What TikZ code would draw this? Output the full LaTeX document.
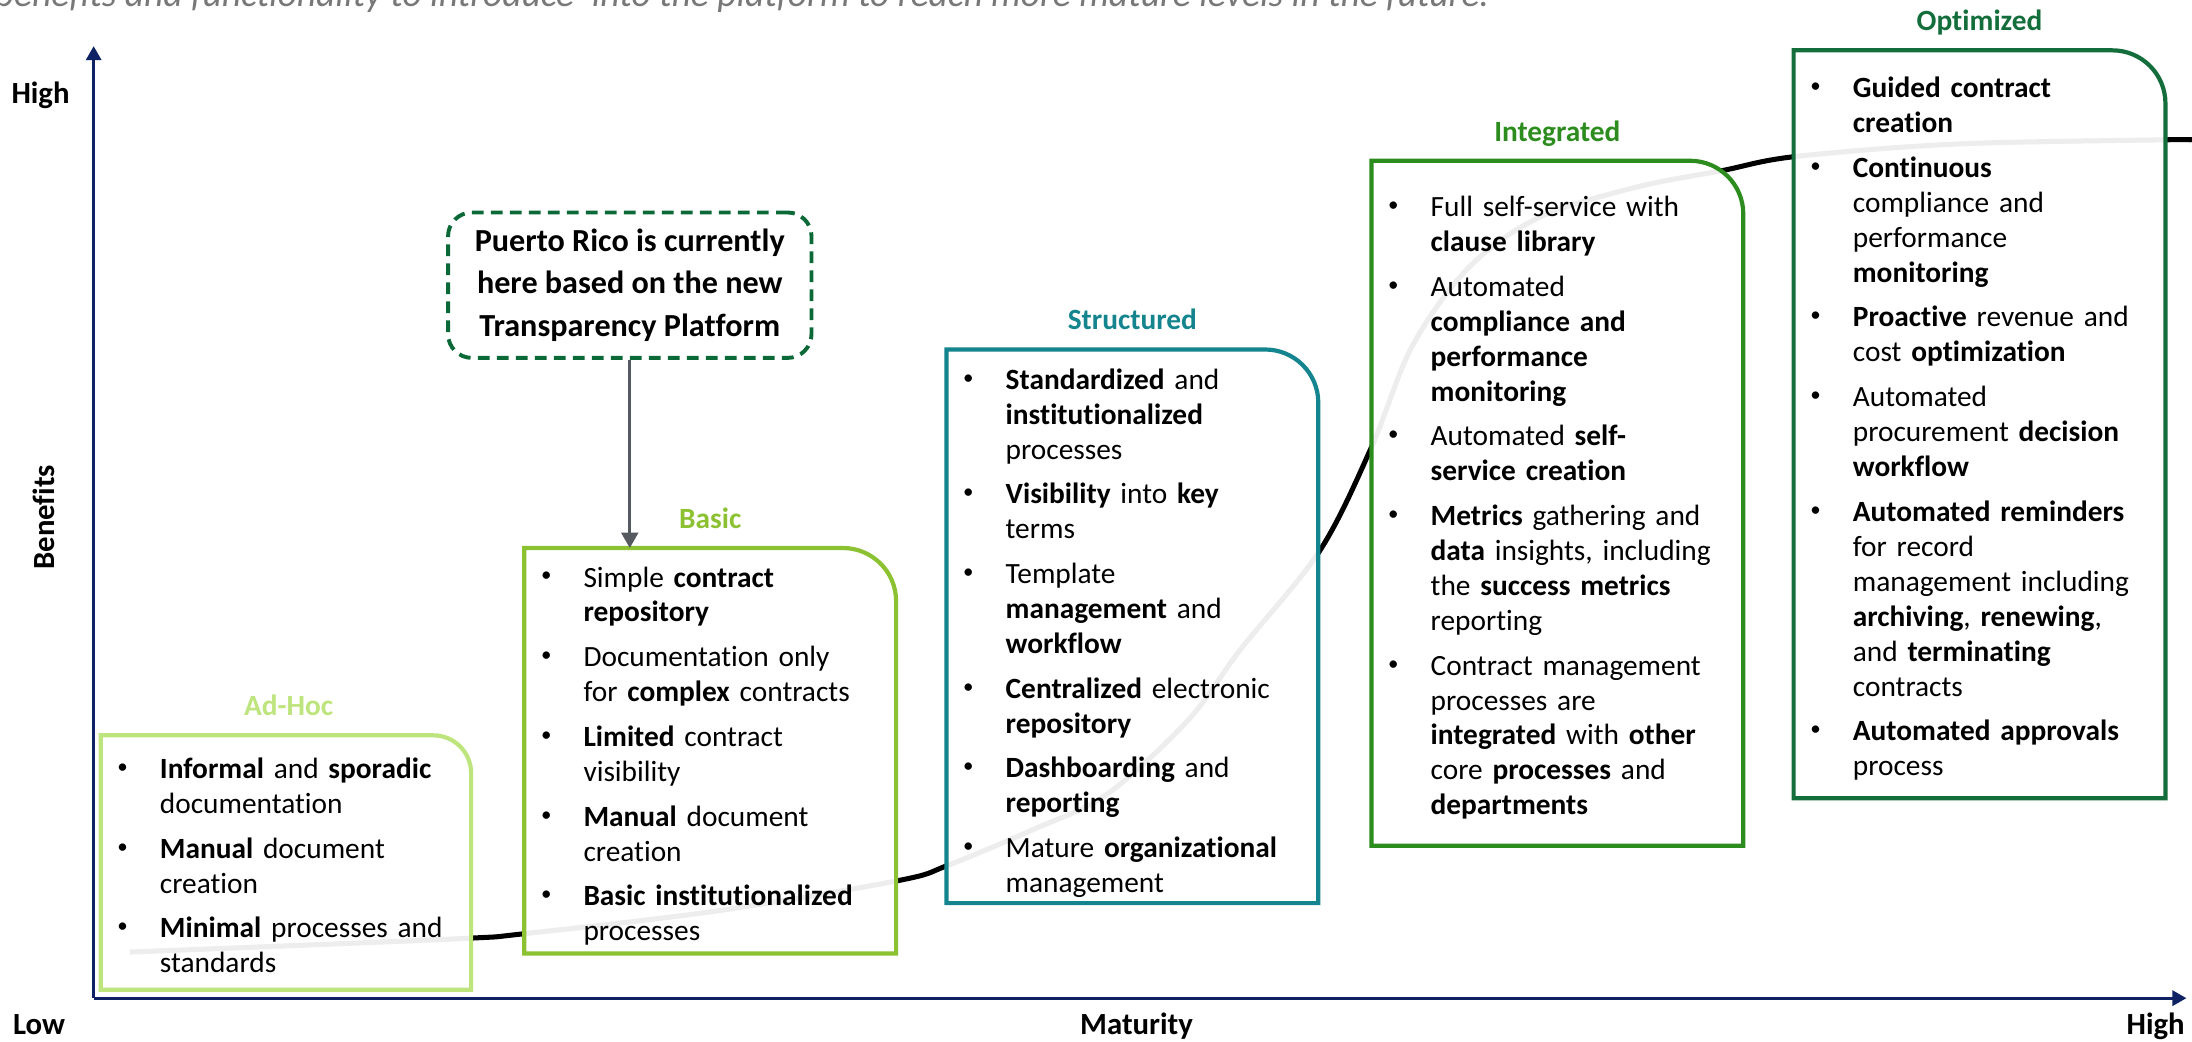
\documentclass[tikz,border=0pt]{standalone}
\usepackage{fontspec}
\setmainfont{Carlito}[Ligatures={TeX,NoCommon}]
\usetikzlibrary{arrows.meta,calc}
\definecolor{cAdhoc}{RGB}{190,228,125}
\definecolor{cBasic}{RGB}{140,193,50}
\definecolor{cStruct}{RGB}{20,133,142}
\definecolor{cInteg}{RGB}{45,140,30}
\definecolor{cOptim}{RGB}{20,110,60}
\definecolor{cPR}{RGB}{10,105,55}
\definecolor{cAxis}{RGB}{15,35,100}
\definecolor{cArrow}{RGB}{85,90,97}
\definecolor{cNote}{RGB}{120,120,120}
\newcommand\bdot{\hspace*{-1.2pt}\raisebox{1.8pt}{\fontsize{7.5}{8}\selectfont\textbullet}}
\newcommand\bitem[1]{\par\noindent\hangindent=14pt\hangafter=1\makebox[14pt][l]{\strut\bdot}#1\par}
\newcommand\bgap{\vspace{3.5pt}}
\newcommand\stagebox[3]{%
  \draw[stageline, draw=#2] (#1.south west) -- (#1.north west)
    -- ($(#1.north east)+(-#3,0)$)
    .. controls ($(#1.north east)+(-0.448*#3,0)$) and ($(#1.north east)+(0,0.448*#3)$)
    .. ($(#1.north east)+(0,#3)$) -- (#1.south east) -- cycle;}
\begin{document}
\begin{tikzpicture}[x=0.5pt,y=-0.5pt,
  frame/.style={draw=none, inner sep=0pt, outer sep=0pt, rectangle},
  stageline/.style={line width=1.5pt, fill=white, fill opacity=0.93},
  txt/.style={anchor=north west, inner sep=0pt, text width=130pt, align=left, font=\fontsize{10.5}{12.5}\selectfont},
  title/.style={anchor=base, inner sep=0pt, font=\bfseries\fontsize{10.5}{12}\selectfont},
  axislbl/.style={inner sep=0pt, font=\bfseries\fontsize{11}{13}\selectfont},
  axis/.style={draw=cAxis, line width=1pt, -{Triangle[length=5pt,width=5.4pt]}},
  curve/.style={draw=black, line width=1.8pt},
  prbox/.style={draw=cPR, line width=1.4pt, dash pattern=on 4.2pt off 2.6pt, rounded corners=8.5pt,
     align=center, inner sep=0pt, minimum width=130pt, minimum height=52pt,
     font=\bfseries\fontsize{11.5}{15.25}\selectfont},
  prarrow/.style={draw=cArrow, line width=1pt, -{Triangle[length=5.5pt,width=6pt]}},
  note/.style={inner sep=0pt, text=cNote, font=\itshape\fontsize{13.4}{15}\selectfont}
]
\useasboundingbox (0,0) rectangle (1568,745);

% top note (partly cut)
\node[note, anchor=base west] (note) at (-4,5) {benefits and functionality to introduce’ into the platform to reach more mature levels in the future.};

% growth curve
\draw[curve] plot[smooth, tension=0.55] coordinates {(93,681) (220,676) (338,671) (374,668) (510,652) (642,630) (678,619) (740,593) (792,568) (850,515) (887,465) (944,394) (981,320) (1010,248) (1050,192) (1100,156) (1170,134) (1232,122) (1284,112) (1400,103) (1549,100) (1566,100)};

% stage frames
\node[frame, minimum width=132.5pt, minimum height=91pt] (adhoc) at (204.5,617) {};
\node[frame, minimum width=133pt, minimum height=145pt] (basic) at (508,537) {};
\node[frame, minimum width=133pt, minimum height=198pt] (struct) at (810,448) {};
\node[frame, minimum width=133pt, minimum height=245pt] (integ) at (1114,360) {};
\node[frame, minimum width=133pt, minimum height=267.5pt] (optim) at (1416,303.5) {};
\stagebox{adhoc}{cAdhoc}{27}
\stagebox{basic}{cBasic}{38}
\stagebox{struct}{cStruct}{38}
\stagebox{integ}{cInteg}{38}
\stagebox{optim}{cOptim}{38}

% titles
\node[title, text=cAdhoc] (tadhoc) at ($(adhoc.north)+(2,-14)$) {Ad-Hoc};
\node[title, text=cBasic] (tbasic) at ($(basic.north)+(0,-14)$) {Basic};
\node[title, text=cStruct] (tstruct) at ($(struct.north)+(0,-14)$) {Structured};
\node[title, text=cInteg] (tinteg) at ($(integ.north)+(0,-14)$) {Integrated};
\node[title, text=cOptim] (toptim) at ($(optim.north)+(0,-14)$) {Optimized};

% texts
\node[txt] (xadhoc) at (86,531.5) {%
\bitem{\textbf{Informal} and \textbf{sporadic}\newline documentation}\bgap
\bitem{\textbf{Manual} document\newline creation}\bgap
\bitem{\textbf{Minimal} processes and\newline standards}};

\node[txt] (xbasic) at (389,394.5) {%
\bitem{Simple \textbf{contract}\newline \textbf{repository}}\bgap
\bitem{Documentation only\newline for \textbf{complex} contracts}\bgap
\bitem{\textbf{Limited} contract\newline visibility}\bgap
\bitem{\textbf{Manual} document\newline creation}\bgap
\bitem{\textbf{Basic institutionalized}\newline processes}};

\node[txt] (xstruct) at (691,253) {%
\bitem{\textbf{Standardized} and\newline \textbf{institutionalized}\newline processes}\bgap
\bitem{\textbf{Visibility} into \textbf{key}\newline terms}\bgap
\bitem{Template\newline \textbf{management} and\newline \textbf{workflow}}\bgap
\bitem{\textbf{Centralized} electronic\newline \textbf{repository}}\bgap
\bitem{\textbf{Dashboarding} and\newline \textbf{reporting}}\bgap
\bitem{Mature \textbf{organizational}\newline management}};

\node[txt] (xinteg) at (995,129.5) {%
\bitem{Full self-service with\newline \textbf{clause library}}\bgap
\bitem{Automated\newline \textbf{compliance and}\newline \textbf{performance}\newline \textbf{monitoring}}\bgap
\bitem{Automated \textbf{self-}\newline \textbf{service creation}}\bgap
\bitem{\textbf{Metrics} gathering and\newline \textbf{data} insights, including\newline the \textbf{success metrics}\newline reporting}\bgap
\bitem{Contract management\newline processes are\newline \textbf{integrated} with \textbf{other}\newline core \textbf{processes} and\newline \textbf{departments}}};

\node[txt] (xoptim) at (1297,44.5) {%
\bitem{\textbf{Guided contract}\newline \textbf{creation}}\bgap
\bitem{\textbf{Continuous}\newline compliance and\newline performance\newline \textbf{monitoring}}\bgap
\bitem{\textbf{Proactive} revenue and\newline cost \textbf{optimization}}\bgap
\bitem{Automated\newline procurement \textbf{decision}\newline \textbf{workflow}}\bgap
\bitem{\textbf{Automated reminders}\newline for record\newline management including\newline \textbf{archiving}, \textbf{renewing},\newline and \textbf{terminating}\newline contracts}\bgap
\bitem{\textbf{Automated approvals}\newline process}};

% Puerto Rico callout
\node[prbox] (pr) at (450.5,204) {Puerto Rico is currently\\here based on the new\\Transparency Platform};
\draw[prarrow] (pr.south) -- (pr.south |- basic.north);

% axes
\coordinate (O) at (67,714);
\coordinate (ytip) at (67,33);
\coordinate (xtip) at (1564,714);
\draw[axis] (O) -- (ytip);
\draw[axis] (O) -- (xtip);
\node[axislbl] (hy) at (29,68) {High};
\node[axislbl, rotate=90] (ben) at (31,370) {Benefits};
\node[axislbl] (low) at (28,733) {Low};
\node[axislbl] (mat) at (813,734) {Maturity};
\node[axislbl] (hx) at (1542,734) {High};
\end{tikzpicture}
\end{document}
